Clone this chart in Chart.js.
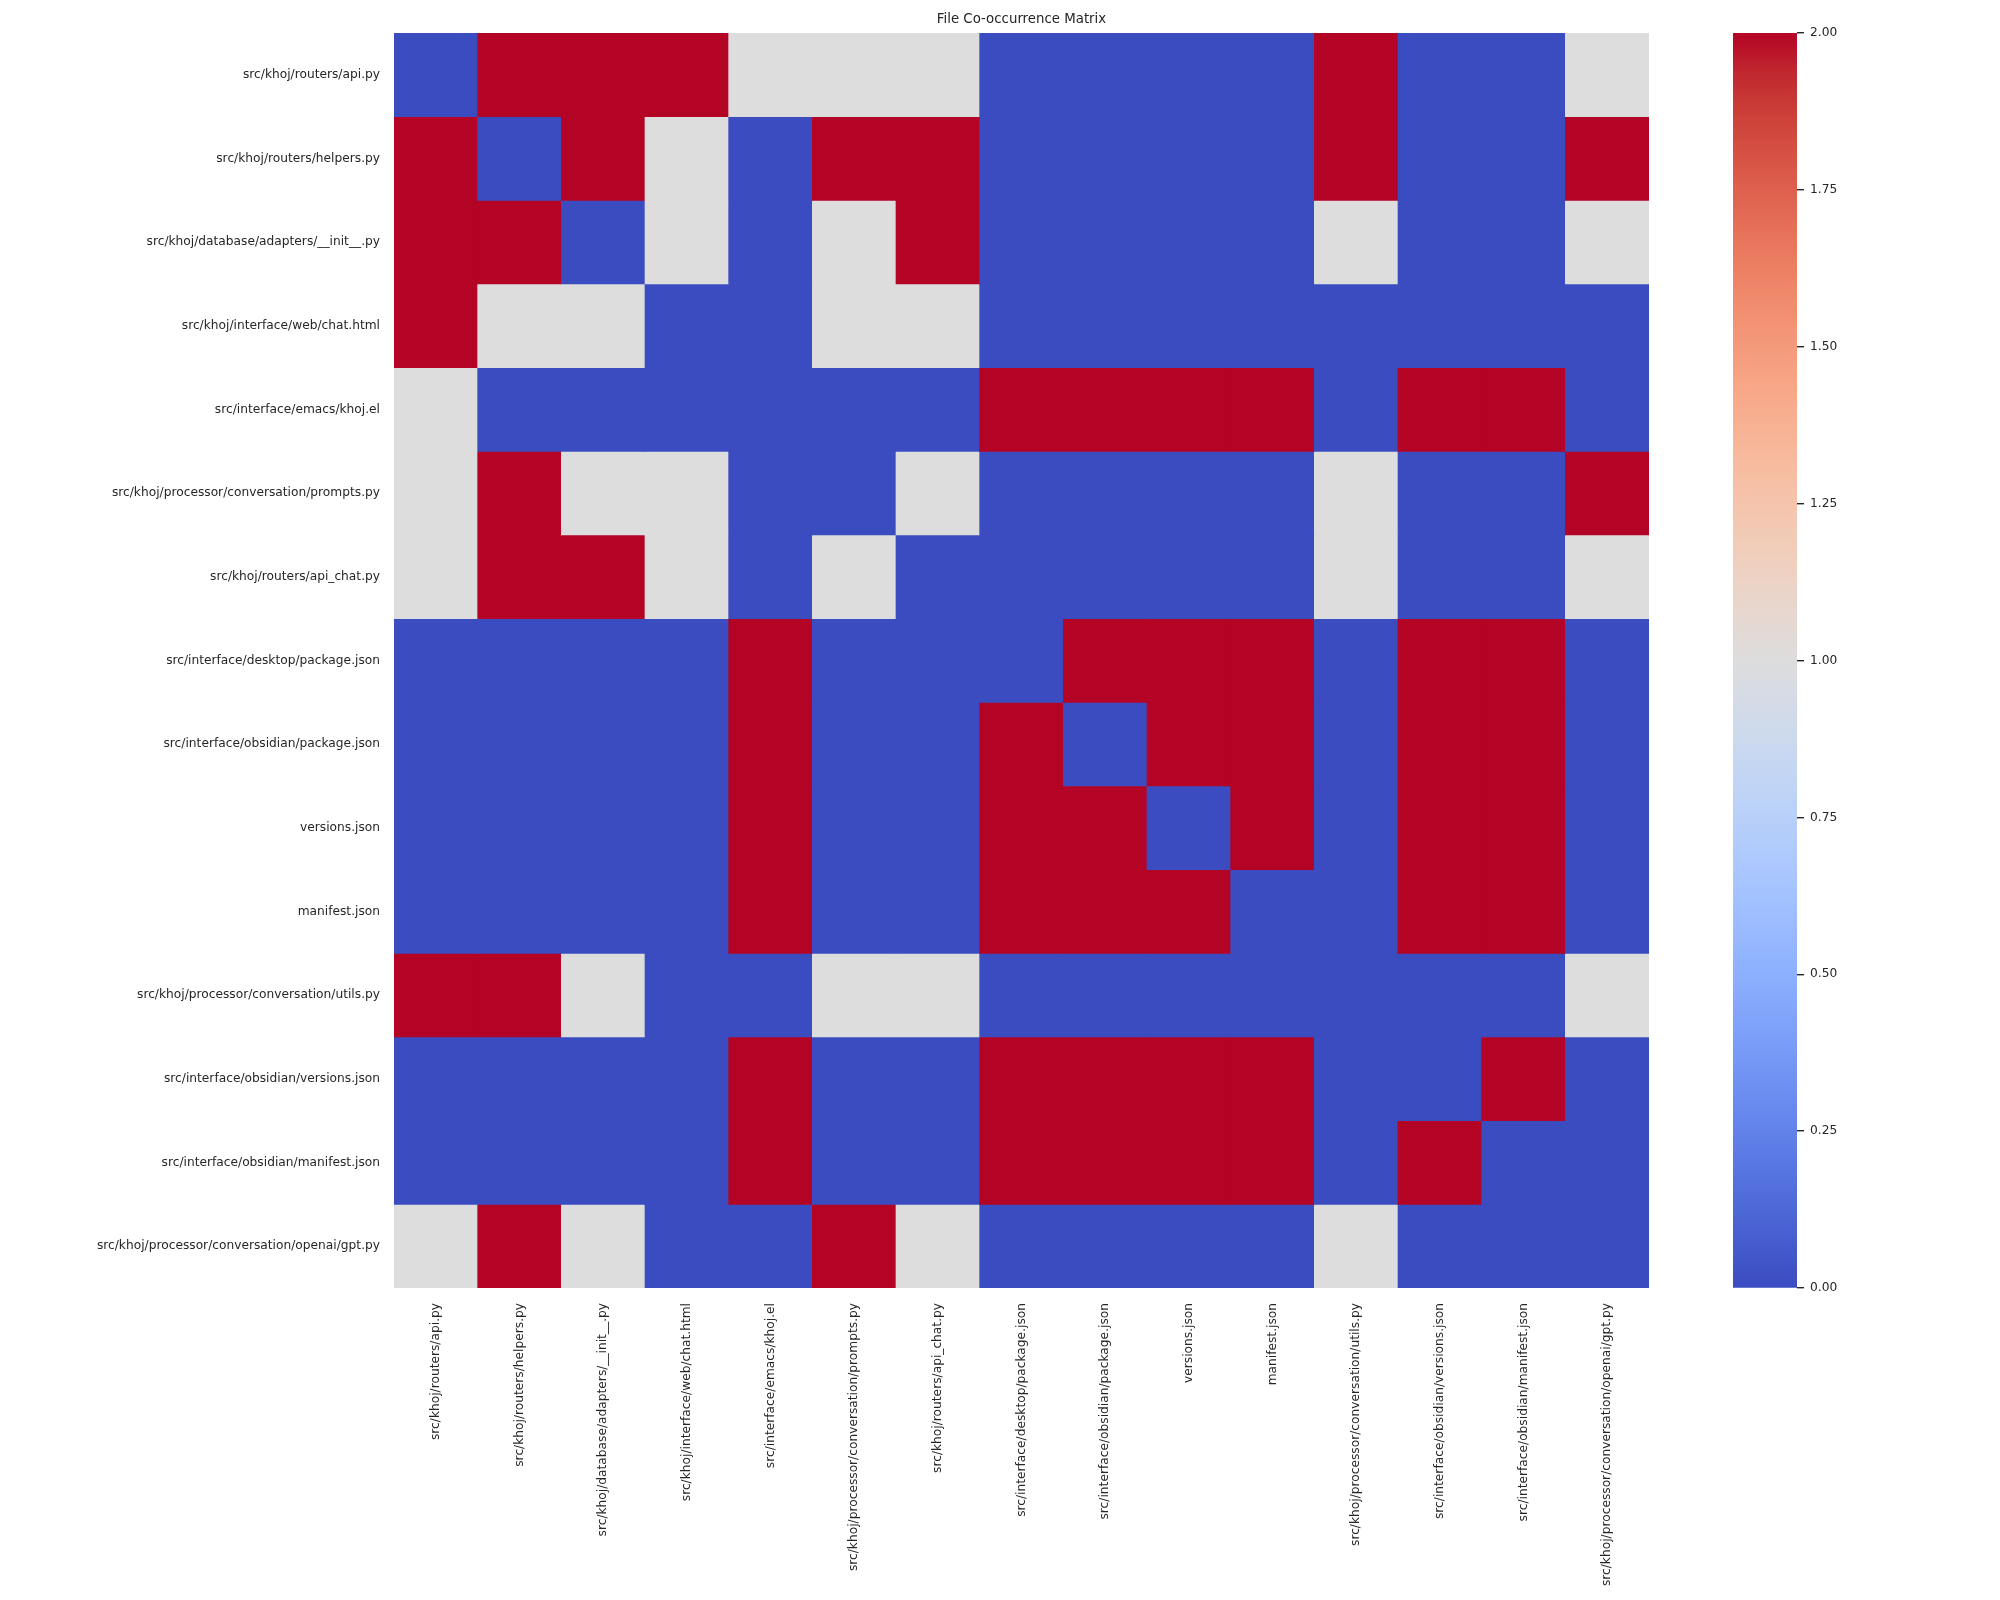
<!DOCTYPE html>
<html>
<head>
<meta charset="utf-8">
<script src="https://cdn.jsdelivr.net/npm/chart.js@4.4.1/dist/chart.umd.min.js"></script>
<style>
  html, body { margin: 0; padding: 0; background: #ffffff; }
  #wrap { position: relative; width: 2000px; height: 1600px; }
  canvas { position: absolute; top: 0; }
</style>
</head>
<body>
<div id="wrap">
  <canvas id="hm" width="2000" height="1600" style="left:0"></canvas>
  <canvas id="cb" width="300" height="1600" style="left:1700px"></canvas>
</div>
<script>
// ---------- data ----------
const chartTitle = 'File Co-occurrence Matrix';
const files = [
  'src/khoj/routers/api.py',
  'src/khoj/routers/helpers.py',
  'src/khoj/database/adapters/__init__.py',
  'src/khoj/interface/web/chat.html',
  'src/interface/emacs/khoj.el',
  'src/khoj/processor/conversation/prompts.py',
  'src/khoj/routers/api_chat.py',
  'src/interface/desktop/package.json',
  'src/interface/obsidian/package.json',
  'versions.json',
  'manifest.json',
  'src/khoj/processor/conversation/utils.py',
  'src/interface/obsidian/versions.json',
  'src/interface/obsidian/manifest.json',
  'src/khoj/processor/conversation/openai/gpt.py'
];
const cooccurrence = [
  [0,2,2,2,1,1,1,0,0,0,0,2,0,0,1],
  [2,0,2,1,0,2,2,0,0,0,0,2,0,0,2],
  [2,2,0,1,0,1,2,0,0,0,0,1,0,0,1],
  [2,1,1,0,0,1,1,0,0,0,0,0,0,0,0],
  [1,0,0,0,0,0,0,2,2,2,2,0,2,2,0],
  [1,2,1,1,0,0,1,0,0,0,0,1,0,0,2],
  [1,2,2,1,0,1,0,0,0,0,0,1,0,0,1],
  [0,0,0,0,2,0,0,0,2,2,2,0,2,2,0],
  [0,0,0,0,2,0,0,2,0,2,2,0,2,2,0],
  [0,0,0,0,2,0,0,2,2,0,2,0,2,2,0],
  [0,0,0,0,2,0,0,2,2,2,0,0,2,2,0],
  [2,2,1,0,0,1,1,0,0,0,0,0,0,0,1],
  [0,0,0,0,2,0,0,2,2,2,2,0,0,2,0],
  [0,0,0,0,2,0,0,2,2,2,2,0,2,0,0],
  [1,2,1,0,0,2,1,0,0,0,0,1,0,0,0]
];
const colorMin = 0;
const colorMax = 2;
const colorbarTicks = [0, 0.25, 0.5, 0.75, 1, 1.25, 1.5, 1.75, 2];

// ---------- style ----------
const COOLWARM = [
  [59,76,192],[68,90,204],[77,104,215],[87,117,225],[98,130,234],[108,142,241],
  [119,154,247],[130,165,251],[141,176,254],[152,185,255],[163,194,255],[174,201,253],
  [184,208,249],[194,213,244],[204,217,238],[213,219,230],[221,221,221],[229,216,209],
  [236,211,197],[241,204,184],[245,196,172],[247,187,159],[247,177,147],[247,166,134],
  [244,154,123],[241,141,111],[236,127,99],[229,112,88],[222,96,77],[213,80,66],
  [203,62,56],[192,40,47],[180,4,38]
];
function cmap(t) {
  t = Math.max(0, Math.min(1, t));
  const pos = t * (COOLWARM.length - 1);
  const i = Math.min(Math.floor(pos), COOLWARM.length - 2);
  const f = pos - i;
  const a = COOLWARM[i], b = COOLWARM[i + 1];
  const c = a.map((v, k) => Math.round(v + (b[k] - v) * f));
  return `rgb(${c[0]},${c[1]},${c[2]})`;
}
function colorFor(v) { return cmap((v - colorMin) / (colorMax - colorMin)); }

const FONT = 'DejaVu Sans';
const TEXT = '#262626';
const N = files.length;

// ---------- heatmap ----------
const datasets = cooccurrence.map((row, r) => ({
  label: files[r],
  data: row.map(() => [N - 1 - r, N - r]),
  backgroundColor: row.map(colorFor),
  borderWidth: 0,
  grouped: false,
  barPercentage: 1,
  categoryPercentage: 1,
  yAxisID: 'y'
}));

new Chart(document.getElementById('hm'), {
  type: 'bar',
  data: { labels: files, datasets },
  options: {
    responsive: false,
    devicePixelRatio: 1,
    animation: false,
    layout: { padding: { left: 0, top: 0, right: 351, bottom: 0 } },
    plugins: {
      legend: { display: false },
      tooltip: { enabled: false },
      title: {
        display: true,
        text: chartTitle,
        fullSize: false,
        color: TEXT,
        font: { family: FONT, size: 13.33, weight: 'normal', lineHeight: 1.2 },
        padding: { top: 12, bottom: 5 }
      }
    },
    scales: {
      x: {
        type: 'category',
        offset: true,
        grid: { display: false, drawTicks: false },
        border: { display: false },
        ticks: {
          autoSkip: false, minRotation: 90, maxRotation: 90, padding: 15,
          color: TEXT, font: { family: FONT, size: 12.22 }
        },
        afterFit: (s) => { s.height = 312; }
      },
      y: {
        type: 'linear', display: false, min: 0, max: N
      },
      yl: {
        type: 'category',
        labels: files,
        position: 'left',
        offset: true,
        grid: { display: false, drawTicks: false },
        border: { display: false },
        ticks: { autoSkip: false, padding: 14, color: TEXT, font: { family: FONT, size: 12.22 } },
        afterFit: (s) => { s.width = 394; }
      }
    }
  }
});

// ---------- colorbar ----------
new Chart(document.getElementById('cb'), {
  type: 'bar',
  data: {
    labels: [''],
    datasets: [{
      data: [[colorMin, colorMax]],
      borderWidth: 0,
      barPercentage: 1,
      categoryPercentage: 1,
      backgroundColor: (ctx) => {
        const chart = ctx.chart;
        const area = chart.chartArea;
        if (!area) return colorFor(colorMin);
        const g = chart.ctx.createLinearGradient(0, area.bottom, 0, area.top);
        COOLWARM.forEach((c, i) => g.addColorStop(i / (COOLWARM.length - 1), `rgb(${c[0]},${c[1]},${c[2]})`));
        return g;
      }
    }]
  },
  options: {
    responsive: false,
    devicePixelRatio: 1,
    animation: false,
    layout: { padding: { left: 33, top: 33, right: 0, bottom: 312 } },
    plugins: { legend: { display: false }, tooltip: { enabled: false }, title: { display: false } },
    scales: {
      x: { type: 'category', display: false, offset: true },
      y: {
        type: 'linear',
        position: 'right',
        min: colorMin, max: colorMax,
        afterBuildTicks: (s) => { s.ticks = colorbarTicks.map(v => ({ value: v })); },
        grid: { drawOnChartArea: false, drawTicks: true, tickLength: 7, color: TEXT, lineWidth: 1.4 },
        border: { display: false },
        ticks: {
          padding: 6, color: TEXT, font: { family: FONT, size: 12.22 },
          callback: (v) => Number(v).toFixed(2)
        },
        afterFit: (s) => { s.width = 203; }
      }
    }
  }
});
</script>
</body>
</html>
